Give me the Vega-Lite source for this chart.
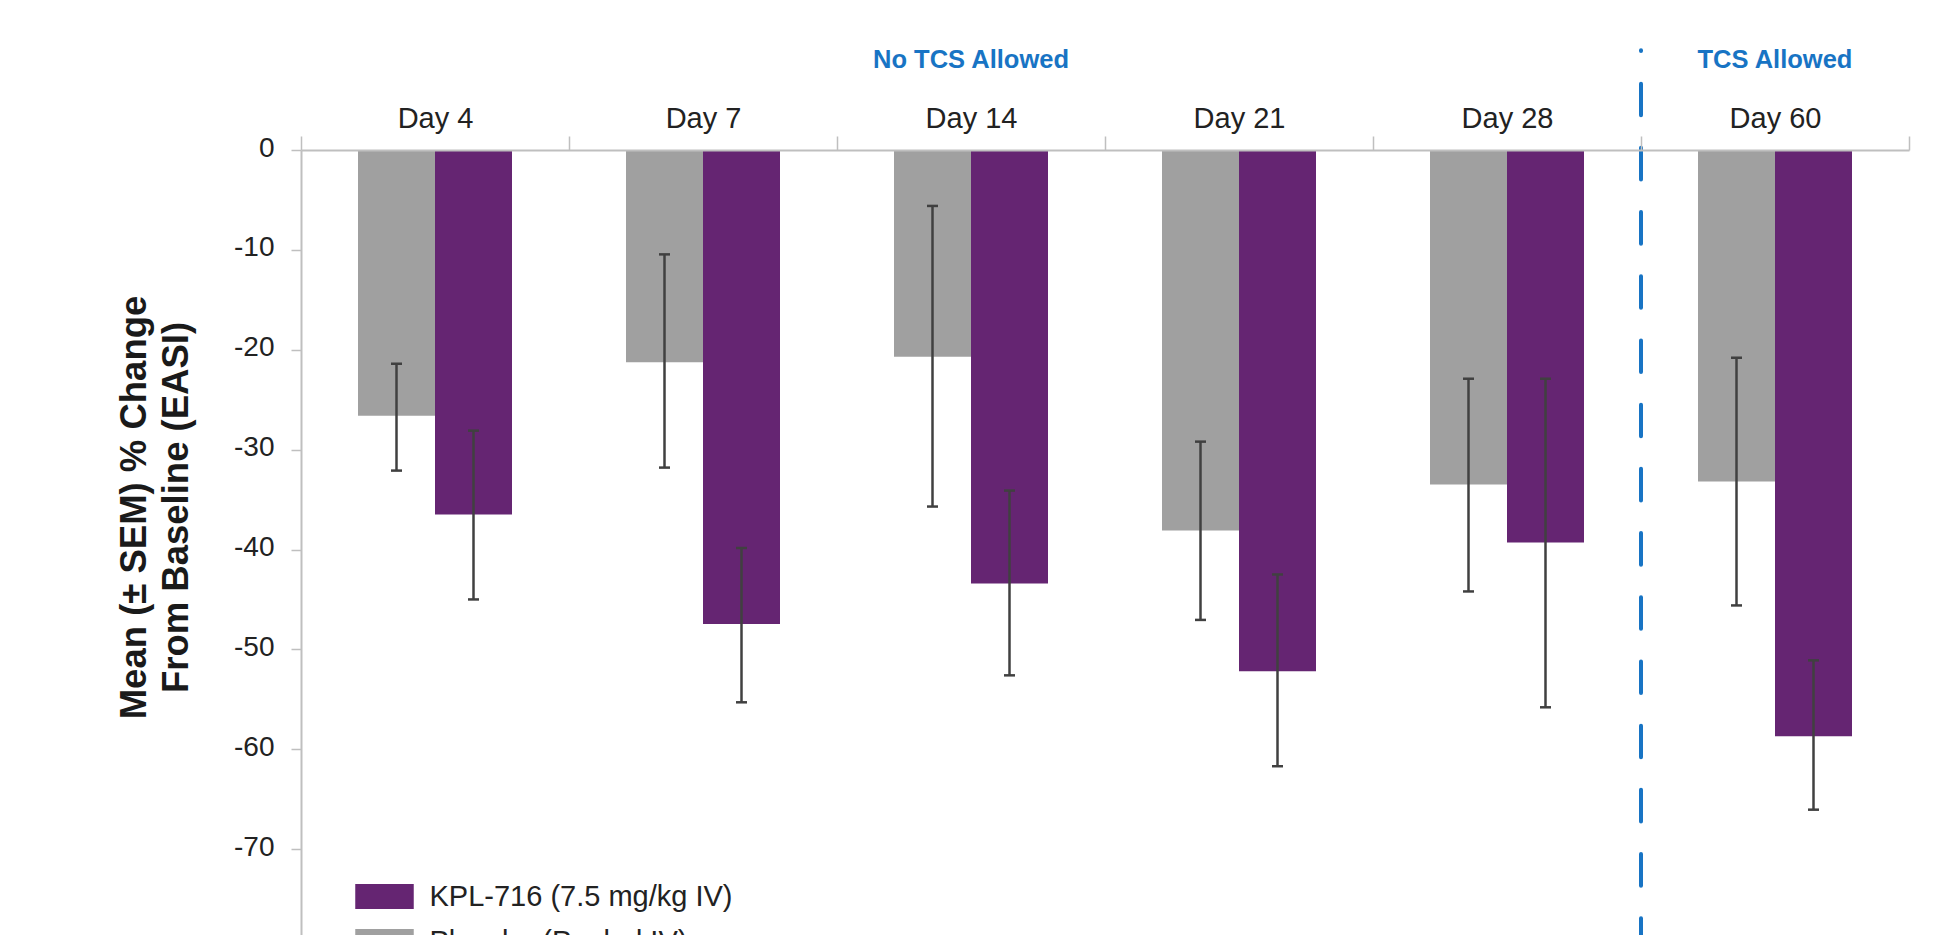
{
  "$schema": "https://vega.github.io/schema/vega-lite/v6.json",
  "autosize": {"type": "none"},
  "padding": {"left": 301, "top": 150, "right": 33, "bottom": 0},
  "width": 1608,
  "height": 799,
  "background": "white",
  "config": {
    "view": {"stroke": null},
    "font": "Liberation Sans",
    "text": {"font": "Liberation Sans"}
  },
  "datasets": {
    "bars": [
      {"day": "Day 4", "group": "Placebo (Pooled IV)", "mean": -26.6, "lower": -32.1, "upper": -21.4},
      {"day": "Day 4", "group": "KPL-716 (7.5 mg/kg IV)", "mean": -36.5, "lower": -45.0, "upper": -28.1},
      {"day": "Day 7", "group": "Placebo (Pooled IV)", "mean": -21.25, "lower": -31.8, "upper": -10.45},
      {"day": "Day 7", "group": "KPL-716 (7.5 mg/kg IV)", "mean": -47.45, "lower": -55.3, "upper": -39.85},
      {"day": "Day 14", "group": "Placebo (Pooled IV)", "mean": -20.7, "lower": -35.7, "upper": -5.6},
      {"day": "Day 14", "group": "KPL-716 (7.5 mg/kg IV)", "mean": -43.4, "lower": -52.6, "upper": -34.1},
      {"day": "Day 21", "group": "Placebo (Pooled IV)", "mean": -38.1, "lower": -47.05, "upper": -29.2},
      {"day": "Day 21", "group": "KPL-716 (7.5 mg/kg IV)", "mean": -52.2, "lower": -61.7, "upper": -42.5},
      {"day": "Day 28", "group": "Placebo (Pooled IV)", "mean": -33.5, "lower": -44.2, "upper": -22.9},
      {"day": "Day 28", "group": "KPL-716 (7.5 mg/kg IV)", "mean": -39.3, "lower": -55.8, "upper": -22.9},
      {"day": "Day 60", "group": "Placebo (Pooled IV)", "mean": -33.2, "lower": -45.6, "upper": -20.8},
      {"day": "Day 60", "group": "KPL-716 (7.5 mg/kg IV)", "mean": -58.7, "lower": -66.05, "upper": -51.1}
    ],
    "notes": [
      {"day": "Day 14", "label": "No TCS Allowed", "pos": 8.2},
      {"day": "Day 60", "label": "TCS Allowed", "pos": 8.2}
    ],
    "divider": [
      {"day": "Day 60", "top": 10, "bottom": -82}
    ]
  },
  "encoding": {
    "x": {
      "field": "day", "type": "nominal", "sort": null,
      "scale": {"domain": ["Day 4", "Day 7", "Day 14", "Day 21", "Day 28", "Day 60"], "paddingInner": 0, "paddingOuter": 0},
      "axis": {
        "orient": "top", "title": null, "labelAngle": 0,
        "labelFontSize": 29, "labelColor": "#222222", "labelPadding": 3,
        "tickBand": "extent", "tickSize": 14, "tickColor": "#BFBFBF", "tickWidth": 1.5,
        "domainColor": "#BFBFBF", "domainWidth": 2, "zindex": 1
      }
    }
  },
  "layer": [
    {
      "data": {"name": "bars"},
      "mark": {"type": "bar"},
      "encoding": {
        "xOffset": {"field": "group", "type": "nominal", "sort": ["Placebo (Pooled IV)", "KPL-716 (7.5 mg/kg IV)"],
          "scale": {"domain": ["Placebo (Pooled IV)", "KPL-716 (7.5 mg/kg IV)"], "paddingInner": 0, "paddingOuter": 0.7403}},
        "y": {
          "field": "mean", "type": "quantitative",
          "scale": {"domain": [-80, 0], "nice": false, "zero": false},
          "axis": {
            "values": [0, -10, -20, -30, -40, -50, -60, -70, -80],
            "labelExpr": "'' + datum.value",
            "grid": false,
            "labelFontSize": 28, "labelColor": "#222222", "labelPadding": 17, "labelOffset": -2,
            "tickSize": 10, "tickColor": "#BFBFBF", "tickWidth": 1.5,
            "domainColor": "#BFBFBF", "domainWidth": 2,
            "title": ["Mean (± SEM) % Change", "From Baseline (EASI)"],
            "titleFontSize": 36.5, "titleFontWeight": "bold", "titleColor": "#1a1a1a",
            "titleLineHeight": 42, "titleAngle": -90, "titleAlign": "center", "titleBaseline": "bottom",
            "titleX": -148, "titleY": 357
          }
        },
        "y2": {"datum": 0},
        "color": {
          "field": "group", "type": "nominal",
          "scale": {"domain": ["KPL-716 (7.5 mg/kg IV)", "Placebo (Pooled IV)"], "range": ["#652572", "#A0A0A0"]},
          "legend": {
            "orient": "none", "legendX": 54, "legendY": 717, "title": null,
            "symbolType": "M-1,-0.427H1V0.427H-1Z", "symbolSize": 3422,
            "symbolStrokeWidth": 0, "symbolOpacity": 1,
            "labelFontSize": 29, "labelColor": "#222222", "labelOffset": 15.5, "labelLimit": 600,
            "rowPadding": -20.5, "direction": "vertical", "padding": 0
          }
        }
      }
    },
    {
      "data": {"name": "bars"},
      "mark": {"type": "rule", "color": "#404040", "strokeWidth": 2.5},
      "encoding": {
        "xOffset": {"field": "group", "type": "nominal"},
        "y": {"field": "lower", "type": "quantitative"},
        "y2": {"field": "upper"}
      }
    },
    {
      "data": {"name": "bars"},
      "mark": {"type": "tick", "color": "#404040", "size": 11, "thickness": 2.5, "opacity": 1},
      "encoding": {
        "xOffset": {"field": "group", "type": "nominal"},
        "y": {"field": "lower", "type": "quantitative"}
      }
    },
    {
      "data": {"name": "bars"},
      "mark": {"type": "tick", "color": "#404040", "size": 11, "thickness": 2.5, "opacity": 1},
      "encoding": {
        "xOffset": {"field": "group", "type": "nominal"},
        "y": {"field": "upper", "type": "quantitative"}
      }
    },
    {
      "data": {"name": "divider"},
      "mark": {"type": "rule", "color": "#1874C4", "strokeWidth": 4, "strokeCap": "round", "strokeDash": [31.6, 32.6], "strokeDashOffset": 30.7},
      "encoding": {
        "x": {"field": "day", "type": "nominal", "bandPosition": 0},
        "y": {"field": "top", "type": "quantitative"},
        "y2": {"field": "bottom"}
      }
    },
    {
      "data": {"name": "notes"},
      "mark": {"type": "text", "color": "#1874C4", "fontSize": 25.5, "fontWeight": "bold", "align": "center", "baseline": "alphabetic"},
      "encoding": {
        "y": {"field": "pos", "type": "quantitative"},
        "text": {"field": "label"}
      }
    }
  ]
}
